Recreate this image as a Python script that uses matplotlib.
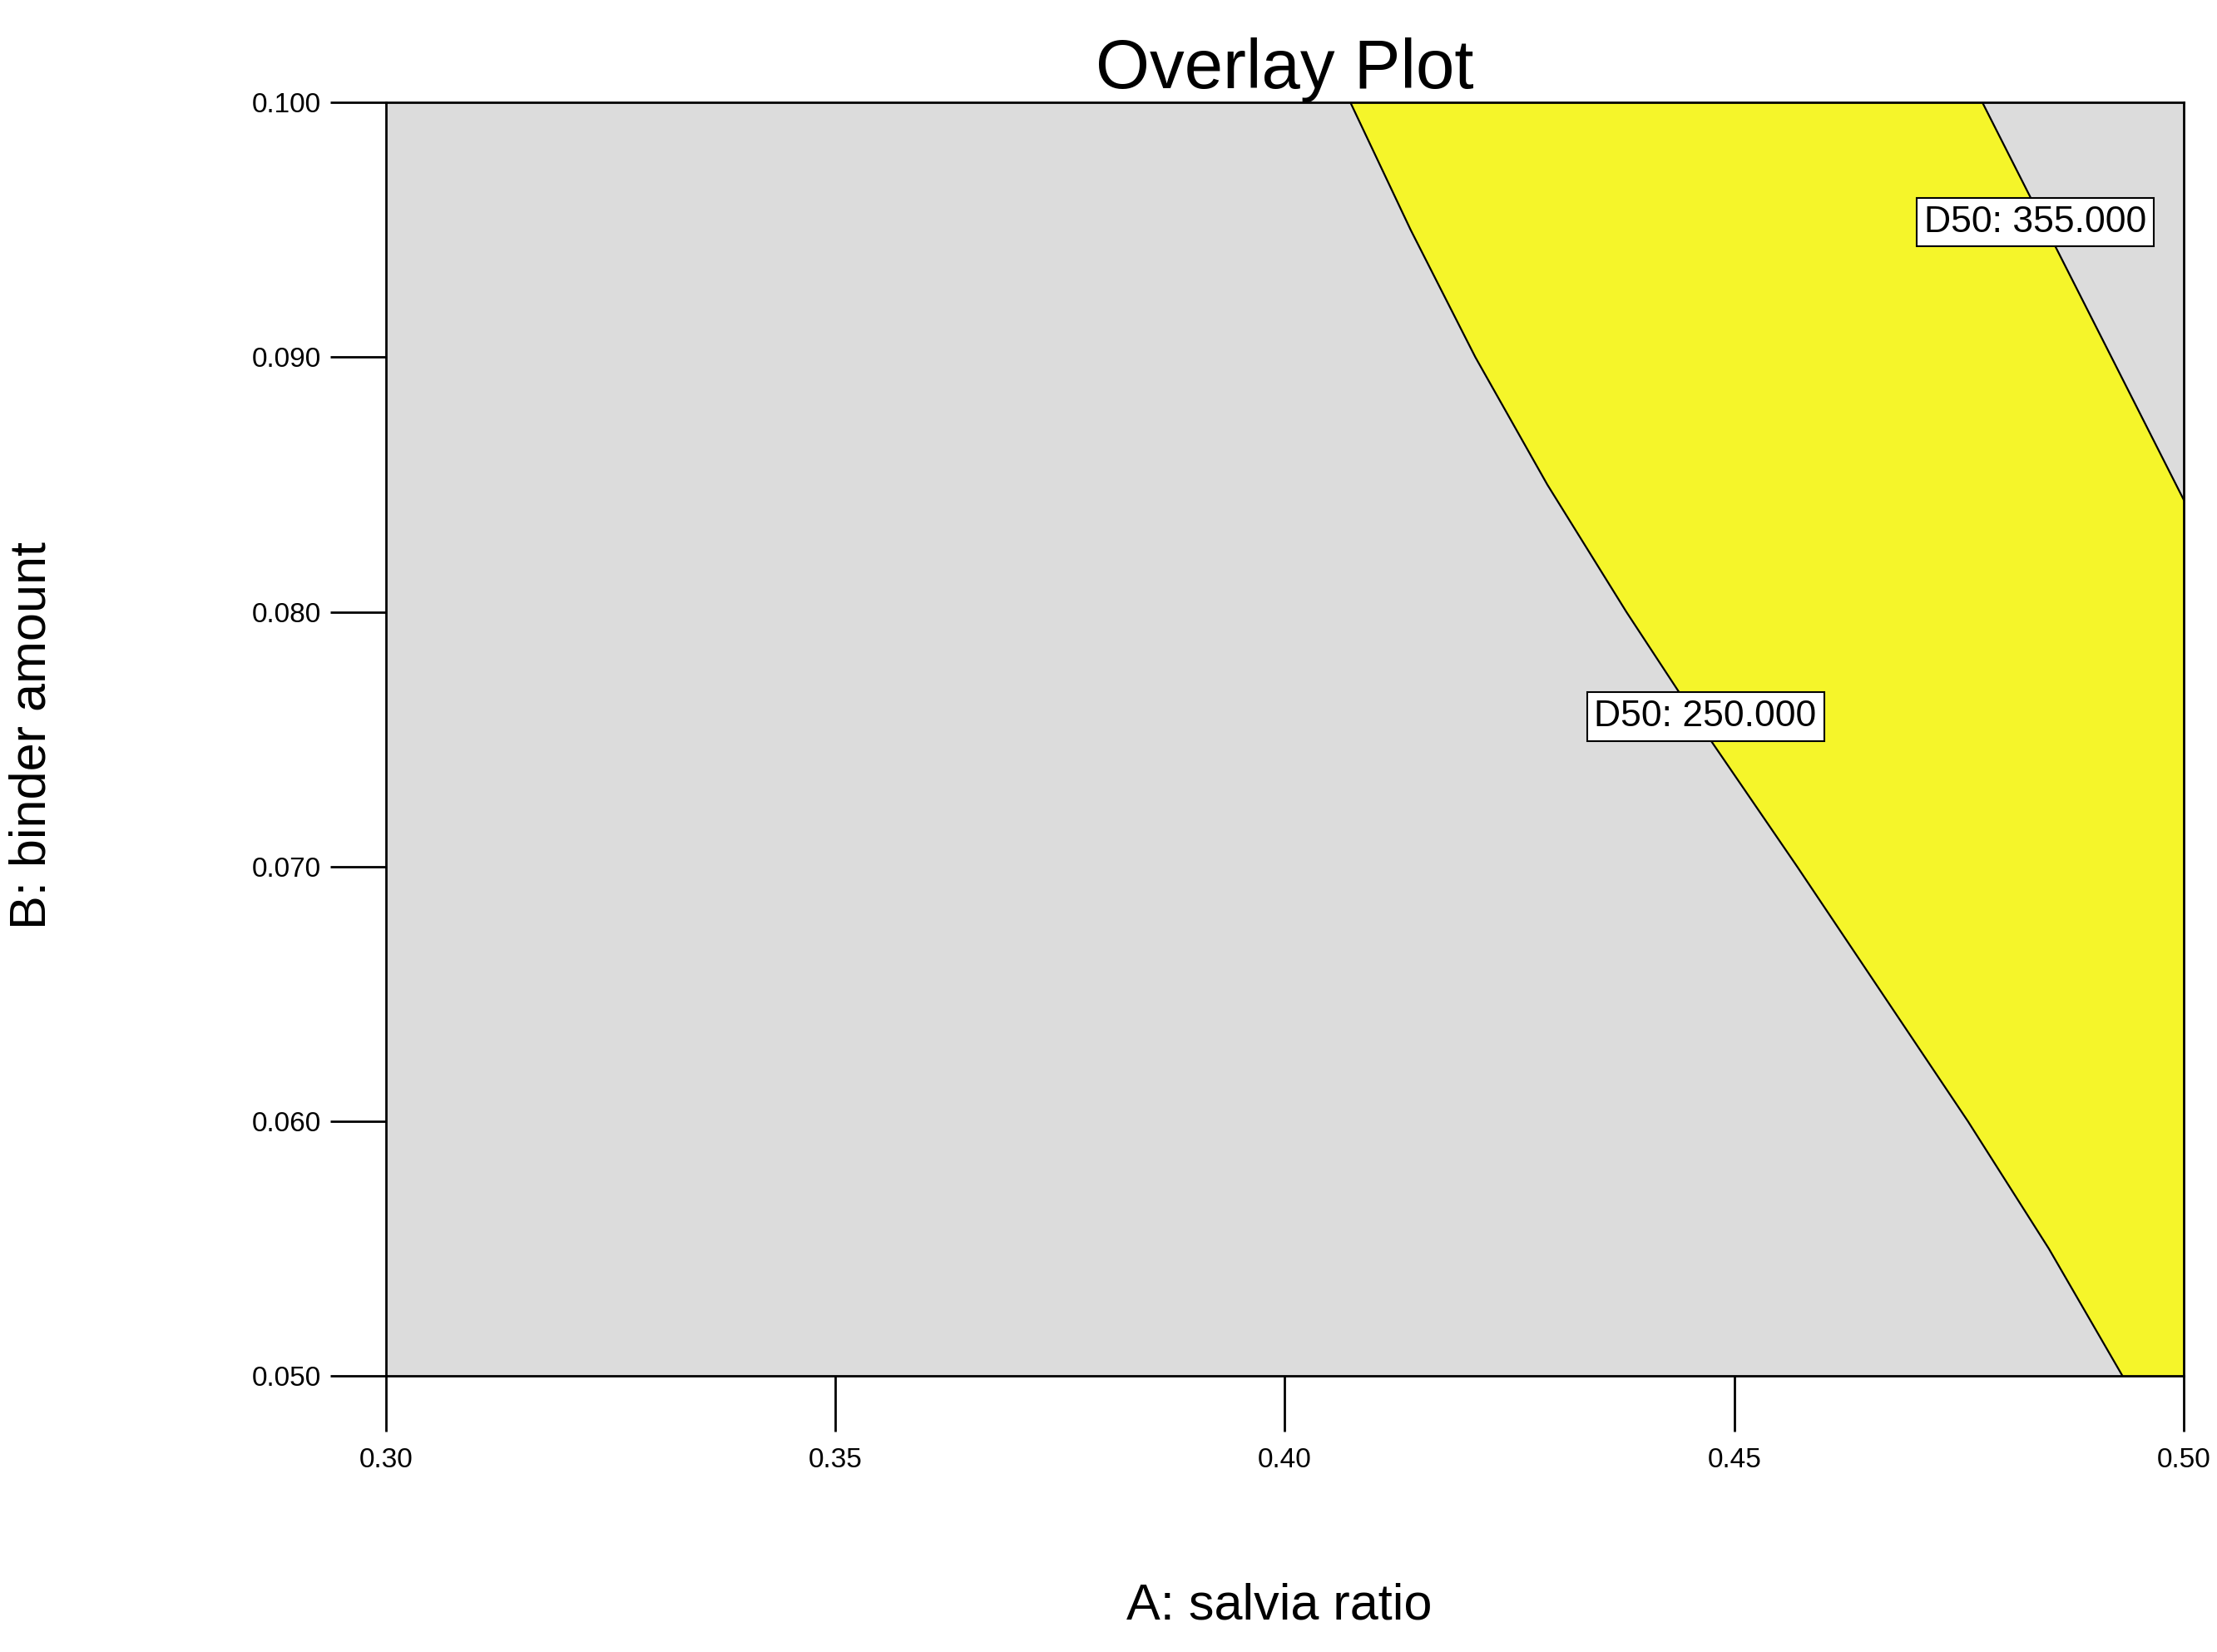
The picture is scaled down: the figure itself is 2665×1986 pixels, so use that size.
import numpy as np
import matplotlib.pyplot as plt

# contour D50 = 250 (x at given y)
c250_y = [0.100, 0.095, 0.090, 0.085, 0.080, 0.075, 0.070, 0.065, 0.060, 0.055, 0.050]
c250_x = [0.4073, 0.4140, 0.4212, 0.4292, 0.4380, 0.4473, 0.4570, 0.4665, 0.4760, 0.4850, 0.4932]
# contour D50 = 355
c355_y = [0.100, 0.0844]
c355_x = [0.4776, 0.5000]

xticks = [0.30, 0.35, 0.40, 0.45, 0.50]
yticks = [0.050, 0.060, 0.070, 0.080, 0.090, 0.100]

plt.rcParams['font.family'] = ['Liberation Sans', 'DejaVu Sans']
fig = plt.figure(figsize=(26.65, 19.86), dpi=100)
ax = fig.add_axes([0.174, 0.167, 0.811, 0.771])
ax.set_facecolor('#dcdcdc')

# yellow region between the two contours
ys = np.linspace(0.05, 0.1, 400)
left = np.interp(ys, c250_y[::-1], c250_x[::-1])
right = np.where(ys >= 0.0844, np.interp(ys, c355_y[::-1], c355_x[::-1]), 0.5)
ax.fill_betweenx(ys, left, right, color='#f5f52a', lw=0)
ax.plot(c250_x, c250_y, color='black', lw=1.6)
ax.plot(c355_x, c355_y, color='black', lw=1.6)

box = dict(boxstyle='square,pad=0.2', fc='white', ec='black', lw=1.5)
ax.text(0.4468, 0.0759, 'D50: 250.000', fontsize=32, ha='center', va='center', bbox=box)
ax.text(0.4835, 0.0953, 'D50: 355.000', fontsize=32, ha='center', va='center', bbox=box)

ax.set_xlim(0.3, 0.5)
ax.set_ylim(0.05, 0.1)
ax.set_xticks(xticks)
ax.set_xticklabels(['%.2f' % v for v in xticks])
ax.set_yticks(yticks)
ax.set_yticklabels(['%.3f' % v for v in yticks])
ax.tick_params(direction='out', length=48, width=2, labelsize=24, pad=8)
ax.tick_params(axis='x', pad=14)
for s in ax.spines.values():
    s.set_linewidth(2)

ax.set_title('Overlay Plot', fontsize=60, pad=10)
fig.text(0.577, 0.02, 'A: salvia ratio', fontsize=44, ha='center')
fig.text(0.004, 0.555, 'B: binder amount', fontsize=44, rotation=90, va='center')

fig.savefig('out.png')
